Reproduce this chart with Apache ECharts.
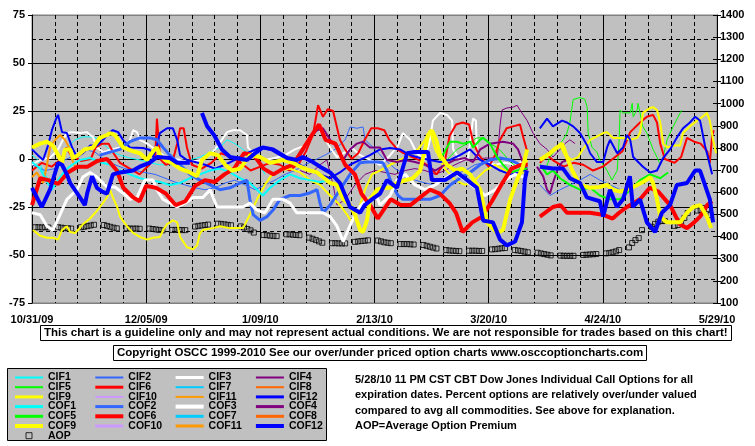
<!DOCTYPE html>
<html><head><meta charset="utf-8">
<script src="https://cdn.jsdelivr.net/npm/echarts@6/dist/echarts.min.js"></script>
<style>html,body{margin:0;padding:0;background:#fff}#c{width:755px;height:446px}</style>
</head><body><div id="c"></div>
<script>
// x = calendar days after 10/31/09
const X_TICK_LABELS = ['10/31/09','12/05/09','1/09/10','2/13/10','3/20/10','4/24/10','5/29/10'];

const CIF1 = [[0,2],[1.8,-0.5],[4,-8],[5.5,-12],[7.1,-8],[8.6,-3],[10.7,6],[13.2,10],[15.6,11.5],[18.7,11.5],[20.8,10],[23,6],[24.8,3.6],[27,2],[30,0.5],[33.1,-0.5],[36.2,-2],[39.2,-3],[42.3,-3],[45.4,-1.6],[48.4,-0.5],[51.5,1],[54.6,3.6],[57.6,6],[59.8,10],[62.2,8],[64.7,5],[67.8,1],[69.9,-3],[71.4,-8]];
const CIF2 = [[0,-3],[4,-6],[7.1,-5],[10.1,-0.5],[13.2,2],[16.2,5],[19.3,3.6],[22.4,-0.5],[25.4,-3],[28.5,-5],[31.6,-6],[34.6,-7],[37.7,-8],[40.8,-10],[43.8,-12],[46.9,-13.5],[50,-15],[53,-16],[56.1,-15],[59.2,-12.5],[62.2,-11],[65.3,-13.5],[68.4,-16],[71.4,-13.5],[74.5,-11],[77.6,-8],[80.6,-6],[83.7,-3],[86.8,-0.5],[89.8,2],[92.9,5],[96,10],[97.5,16.7],[99.6,16],[101.5,16.7],[102.1,10],[105.2,5],[108.2,-0.5],[111.3,-5],[114.4,-8],[117.4,-11],[120.5,-12.5],[123.6,-13.5],[126.6,-11],[129.7,-8],[132.8,-6],[135.8,-3],[138.9,-1.6],[142,-3],[145,-6],[148.1,-8],[151.8,-11],[153.5,null],[155.7,-13.5],[158.8,-19],[161.9,-16],[164.9,-13.5],[168,-11],[171.1,-8],[174.1,-11],[177.2,-13.5],[180.3,-16]];
const CIF3 = [[0,-3],[2.5,-0.5],[5.5,0.5],[8,5],[9.5,10],[10.7,13.5],[12.3,14],[14.7,13.5],[16.9,14],[17.8,12.5],[18.7,11.5],[19.9,6],[21.8,3.6],[23.9,4.7],[26.4,5.7],[28.5,6],[30,10],[31,15],[32.2,14],[33.1,10],[35.3,8],[37.7,5],[40.2,2],[42.3,0.5],[45.4,-0.5],[48.4,-1.6],[51.5,-0.5],[54.6,2],[57,7],[59.8,14],[61.6,15],[63.8,15],[65.9,12.5],[66.2,6],[68.4,2],[71.4,-0.5],[74.5,0.5],[77.6,2],[80.6,5],[83.7,7],[85.2,10],[87.4,17],[88.9,13.5],[91.4,6],[93.5,1],[96,3.6],[98.1,5.7],[100.6,2],[103.6,-0.5],[106.7,-3],[109.8,2],[112.2,7],[113.7,13.5],[115.9,10],[118,3],[120.5,-0.5],[122,10],[122.9,20],[125.1,24],[127.2,23],[128.8,20],[129.1,5],[131.2,-0.5],[133.7,0.5],[135.2,21],[136.1,20],[136.4,2],[138.9,-1.6],[142,-3],[145,-2],[148.1,-3],[151.8,-0.5]];
const CIF4 = [[82.2,-6],[85.2,-8],[88.3,-3],[90.4,-0.5],[92.3,-13.5],[93.5,-24],[96,-21],[99,-13.5],[102.1,-8],[105.2,-6],[108.2,-7],[111.3,-8],[114.4,-6],[117.4,-5],[120.5,-6],[123.6,-8],[126.6,-6],[129.7,-3],[132.8,-0.5],[135.8,-0.5],[138.9,0.5],[141.3,0.5],[142.6,-0.5],[143.5,17.7],[144.1,25.5],[145.6,26.6],[147.5,27],[148.7,28],[149.6,25.5],[151.8,20],[153.6,13.5],[155.7,8],[157.9,5],[159.7,1],[161.9,5],[163.4,8],[164.9,10],[166.5,8]];
const CIF5 = [[127.2,-0.5],[130.3,5],[133.4,8],[136.4,11],[138.3,11],[140.4,8],[142.6,6],[144.4,3],[146.6,-1.6],[148.7,-4],[150.5,-6],[151.8,-7],[153.5,null],[157.3,-6],[158.8,1],[161,6],[162.8,10],[164,13.5],[164.9,19],[165.9,31],[168,32],[169.5,31],[170.2,27],[170.5,13.5],[171.7,6],[173.2,3.6],[174.1,-0.5],[176.3,-6],[177.8,-11],[179.4,-6],[180,10],[180.3,25.5],[181.2,24],[183.4,24],[184,29],[184.3,22],[185.5,25.5],[185.8,29],[186.4,24],[187.3,16.7],[188.5,13.5],[190.4,5],[191.6,1],[192.6,-3],[193.5,1],[194.7,10],[196.5,16.7],[198.7,24],[199.3,25.5]];
const CIF6 = [[0,-6],[3,-2],[6,-4],[9,0],[10.5,6],[12,2],[15,-1],[18,0],[19.5,6],[21.5,8],[23.5,8],[25,3],[27,-2],[30,-5],[33,-8],[36,-3],[37.8,2],[38.3,21],[38.8,20],[39.3,0],[41,-3],[43,-2],[44.5,8],[45.4,16],[46.5,16],[47.5,6],[49,-3],[52,-5],[55,-2],[58,3],[61,1],[64,-2],[67,-6],[70,-4],[73,-2],[76,-3],[79,-6],[82,-2],[84,4],[86.2,13],[87.7,28],[89.2,22],[90.7,26],[92.3,25],[94.4,10],[96,5],[98,0],[100,3],[102,10],[104,16],[106,16],[108,15],[109.5,10],[112,5],[115,2],[118,0],[121,-3],[124,-8],[126.5,-2],[128,12],[130,18],[132,19],[134,18],[135.2,9],[137,2],[140,-4],[142,2],[143.5,10],[145.5,16],[147.5,17],[149.6,18],[150.5,12],[151.8,4],[153.5,null],[155.7,-2],[158,2],[160,-1],[163,-4],[166,-2],[169,-3],[172,-6],[175,-4],[178,0],[181,4],[183.4,14],[186.4,19],[188.5,22],[190.4,23],[191.6,19],[192.6,8],[194,0],[197,-2],[199,1],[200.8,11],[203,9],[205,8],[207,4],[207.8,-2],[208.5,12],[209,15]];
const CIF7 = [];
const CIF8 = [];
const CIF9 = [[0.3,-37],[2.5,-40],[4.6,-41],[6.4,-41],[8,-42],[9.2,-37],[10.7,-35],[11.7,-38],[13.2,-38.5],[14.1,-37],[15.6,-34],[17.8,-31],[19.9,-27],[20.8,-25],[23,-20],[23.9,-16],[24.8,-20],[26.1,-25],[27,-30],[29.1,-35],[31,-38.5],[33.1,-40.6],[35.3,-42],[37.1,-41],[39.2,-40.6],[40.2,-37],[41.4,-34],[43.2,-32],[44.5,-33],[45.4,-40.6],[47.5,-46],[49.4,-47],[50.6,-45],[51.5,-38.5],[52.4,-37],[55.5,-36],[57.6,-35],[60.7,-36],[62.9,-36],[64.7,-36],[66.8,-29],[69,-21],[71.4,-13.5],[73.6,-8],[76,-6],[79.1,-5],[82.2,-7],[85.2,-11],[88.3,-13.5],[91.4,-19],[94.4,-24],[96.6,-29],[98.1,-33],[100,-27],[102.1,-16],[104.2,-8],[106.7,-6],[109.8,-3],[112.8,-0.5],[115.9,2],[118.3,5],[120.5,10],[122,15],[123.6,5],[126.6,-5],[129.7,-11],[132.8,-13.5],[135.8,-11],[138.9,-6],[142,-3],[145,-6],[148.1,-8],[150.5,-7],[151.8,-0.5],[153.5,null],[157.3,1],[160.3,6],[161.9,7],[163.4,2],[165.6,-0.5],[167.4,1],[168.9,5],[171.1,10],[172.9,11.5],[175.1,13.5],[176.3,14],[178.1,11],[181.2,11],[183.4,10],[185.5,11],[186.4,13.5],[187.3,24],[189.5,26.6],[190.4,27],[191.6,25.5],[192.6,19],[193.5,8],[194.7,6],[196.5,7],[198.7,7],[199.6,13.5],[201.7,17],[203.9,20],[204.8,21],[206.9,24],[207.8,20],[208.8,10],[209.7,3]];
const CIF10 = [];
const CIF11 = [[0,-9.4],[1.5,-7],[3.4,-12.5],[4.6,-3],[5.5,6],[7.1,10],[8.6,12.5],[10.1,10],[11.7,5],[12.3,-0.5],[13.5,-5]];
const CIF12 = [[0,5],[1.8,2],[3.4,-0.5],[4.9,7],[6.1,15],[7.4,21],[8,23],[9.2,14],[10.7,13.5],[12.3,6],[13.8,1],[15.6,3],[17.8,7],[19.9,7],[21.8,10],[23.9,14],[24.8,15],[26.4,14],[27.9,10],[30,6],[34,5.7],[36.2,4.7],[37.1,1],[38.3,7],[39.2,13.5],[41.4,16],[43.2,16],[44.5,10],[45.4,2],[47.5,-0.5],[50,-1.6],[53,-3],[56.1,-5],[59.2,-3],[62.2,-0.5],[65.9,3],[69.9,6],[73,5],[76,2],[79.1,-0.5],[82.2,-3],[85.2,-6],[88.3,-8],[91.4,-10],[94.4,-7],[97.5,-3],[100.6,-0.5],[103.6,2],[106.7,5],[109.8,5.7],[112.8,5],[115.9,2],[119,0.5],[122,-0.5],[125.1,-1.6],[128.2,-0.5],[131.2,2],[134.3,5],[137.4,-0.5],[140.4,-3],[143.5,-6],[146.6,-8],[149.6,-7],[151.8,-5],[153.5,null],[155.7,16],[157.9,21],[159.7,17],[162.5,20],[164,19],[165.9,17],[168,13.5],[170.2,7],[171.1,3],[173.2,-1.6],[175.1,-1.6],[176.3,6],[177.2,10],[179.4,3],[181.2,6],[182.4,12.5],[183.4,10],[184.3,1],[187.3,-4],[189.5,-7],[191.6,-6],[193.5,0.5],[195.6,5],[197.8,11.5],[199.6,16],[201.7,19],[203.3,22],[204.8,20],[205.4,15],[206.3,7],[207.2,1],[208.5,-8]];

const COF1 = [[0,-1.6],[2.5,-5],[4.6,-12],[6.1,-16],[8,-11],[10.1,-6],[12.3,-3],[14.7,-0.5],[17.8,0.5],[20.8,-1.6],[23.9,-3],[27,-6],[30,-8],[33.1,-10],[36.2,-11],[39.2,-12],[42.3,-13.5],[45.4,-12.5],[48.4,-10],[51.5,-8],[54.6,-6],[57.6,-5],[60.7,-7],[63.8,-10],[66.8,-12.5],[69,-16],[70.8,-19],[73,-15],[76,-11],[79.1,-8],[82.2,-10],[85.2,-11],[88.3,-12],[91.4,-11]];
const COF2 = [[20.8,2],[23.9,3.6],[27,5],[30,9],[33.1,11],[36.2,11],[38.3,10],[40.2,6],[42.3,2],[45.4,-3],[48.4,-8],[51.5,-11],[54.6,-13.5],[57.6,-16],[60.7,-15],[63.8,-12.5],[65.9,-11],[66.8,-21],[67.8,-29],[69.9,-32],[72.1,-30],[73.9,-26.6],[76,-21],[79.1,-19],[82.2,-19],[85.2,-17.7],[87.4,-16],[88.3,-23],[89.2,-28],[91.4,-24],[94.4,-16],[97.5,-8],[100.6,-2],[102.7,-1.6],[105.8,-1.6],[107.6,-2],[108.8,-6],[110.4,-13.5],[112.2,-19],[113.7,-21],[117.4,-21],[122,-21],[125.1,-19],[128.2,-13.5],[131.2,-10],[134.3,-7],[137.4,-3],[140.4,-0.5],[143.5,0.5],[146.6,-0.5],[149.6,-3],[151.8,-5]];
const COF3 = [[0,-28],[2.5,-29],[4.6,-35],[6.4,-37],[8.6,-29],[10.7,-21],[13.8,-16],[15.6,-9.4],[17.8,-7],[19.9,-9.4],[23,-14.6],[25.4,-14.6],[27.9,-17.7],[30,-21],[32.2,-20],[34.6,-11],[37.1,-11],[38.3,-16],[40.2,-21],[44.5,-25],[46.9,-23],[49.4,-20],[52.4,-20],[54.6,-16],[56.7,-25],[60.7,-25],[64.7,-25],[66.8,-23],[69,-26.6],[71.4,-28],[73.9,-21],[77,-21],[79.1,-23],[81.2,-28],[85.2,-28],[89.2,-28],[91.4,-30],[93.5,-35],[95.4,-43],[96.9,-37],[99.6,-26.6],[102.7,-21],[105.8,-20],[106.7,-24],[109.8,-19],[111.9,-11],[114.4,-8],[117.4,-13.5],[120.5,-16],[123.6,-13.5],[126.6,-10],[129.7,-7],[132.8,-11],[135.8,-15],[138.9,-19],[142,-16],[145,-11],[148.1,-8],[151.8,-10]];
const COF4 = [[82.2,2],[83.7,6],[85.2,11.5],[87.4,15],[89.2,16],[91.4,10],[93.5,6],[95.4,-0.5],[97.5,5],[99.6,8],[101.5,9],[103.6,6],[106.7,6],[108.8,-0.5],[111.9,-1.6],[114.4,-0.5],[117.4,-1.6],[120.5,-3],[123.6,-6],[126.6,-3],[129.7,-0.5],[132.8,0.5],[135.2,-1.6],[137.4,5],[140.4,8],[144.4,9],[147.5,8],[149,5],[150.2,-0.5],[151.8,-6],[153.5,null],[154.8,-4],[156.7,-9],[157.9,-16],[158.8,-18],[159.7,-12.5],[161,-6],[162.5,-1.6],[164,-0.5]];
const COF5 = [[125.1,-0.5],[127.2,6],[128.2,9],[130.3,9],[132.1,8],[134.3,9],[135.2,6],[137.4,10],[138.3,11],[140.4,8],[142.6,1],[144.4,-3],[146.6,-7],[148.7,-6],[151.8,-5],[153.5,null],[155.7,-3],[157.9,-8],[159.7,-6],[161.9,-10],[164.9,-13.5],[168,-16],[171.1,-15],[174.1,-19],[177.2,-21],[180.3,-21],[183.4,-16],[186.4,-11],[189.5,-8],[192.6,-10],[195,-7]];
const COF6 = [[0,-24],[2.5,-10],[5,-11],[8,-13],[11,-7],[14,-4],[17,-4],[20,-1],[23,0],[26,-6],[28,-15],[31,-20],[33,-22],[35,-14],[38,-15],[41,-18],[44,-24],[47,-22],[50,-14],[53,-11],[56,-12],[59,-8],[62,-5],[65,3],[68,2],[71,-5],[74,-8],[77,-5],[80,-3],[83,5],[86,13],[88,18],[90,10],[93,8],[96,-3],[99,-8],[101,-18],[104,-25],[106,-31],[108,-26],[110,-21],[113,-24],[116,-24],[119,-20],[122,-16],[125,-18],[128,-23],[130,-28],[132,-38],[135,-33],[138,-30],[141,-22],[144,-13],[147,-5],[150,-3],[152,-3],[153.5,null],[155.7,-30],[159.7,-25],[162,-24],[164,-28],[167,-28],[171,-28],[175,-29],[178,-31],[180,-28],[182.4,-25],[186.4,-21],[189.4,-15],[192,-17],[195.6,-24],[198.6,-34],[200.8,-36],[203,-33],[204.8,-30],[207,-24],[208.5,-22]];
const COF7 = [];
const COF8 = [];
const COF9 = [[0,6],[2.5,8],[4.6,9],[6.4,7],[7.7,3],[9.2,-2],[10.1,5],[11.7,5],[12.6,0.5],[14.1,2],[16.2,5],[18.7,6],[20.8,11],[23,12.5],[23.9,13.5],[25.4,12.5],[26.4,10],[27.9,6],[31,4],[33.1,3],[35.3,-0.5],[37.1,4],[38.3,6],[39.2,2],[40.8,-0.5],[42.9,-2],[45.4,-5],[48.4,-7],[50.6,-9],[52.1,-0.5],[54.6,3],[57,2],[59.2,-3],[61.3,-6],[63.8,-5],[66.8,2],[69.9,1],[73,-2],[77,-0.5],[80,-2],[82.2,-4],[85.2,-6],[87.4,-7],[91.4,-12.5],[93.5,-13.5],[95.4,-21],[97.5,-24],[99,-29],[100.6,-37],[101.5,-38],[102.7,-32],[103.6,-21],[105.8,-16],[107.6,-15],[109.8,-15],[111.9,-12.5],[114.4,-11],[116.8,-10],[119,-6],[120.5,5],[121.4,12.5],[122.6,15],[123.9,10],[125.1,2],[127.2,-3],[129.7,-6],[131.8,-5],[134.3,-8],[137.4,-16],[139.5,-33],[142.6,-38.5],[144.4,-37],[146.6,-21],[148.7,-11],[150.5,-4],[151.8,5],[153.5,null],[155.7,-0.5],[158.8,3],[161,6],[162.5,8],[164,1],[165.6,-6],[168,-13.5],[171.1,-15],[174.1,-14.6],[176.3,-13.5],[178.1,-16],[180.3,-17],[182.4,-16],[184.3,-14.6],[187.3,-12],[189.5,-9.4],[190.4,-12.5],[191.6,-21],[192.6,-30],[194.7,-33],[196.5,-33],[198.7,-33],[200.8,-28],[202.7,-25],[204.8,-24],[206.9,-30],[208.2,-36]];
const COF10 = [];
const COF11 = [];
const COF12 = [[0,-15],[3,-25],[5.5,-16],[8,-2],[9.2,-3],[10.7,-8],[11.7,-12.5],[14.7,-20],[16.2,-24],[16.9,-18],[18.4,-9],[19.9,-15],[21.5,-17],[23,-18],[24.8,-8],[27,-7],[31,-6],[33,-4],[36,-2],[38.3,1],[42.3,0.5],[44.5,-2],[48.4,-2],[50,null],[52.1,24],[53.7,17],[55.8,12.5],[58.2,5],[60.7,1],[65.9,-0.5],[68.4,3],[70.8,6],[73.9,5],[78.2,0.5],[81.2,-0.5],[83,1],[86.1,-1.6],[88.3,-4],[91.4,-7],[94.4,-12.5],[97.5,-25],[100.6,-28],[102,-24],[104.2,-21],[106.7,-18],[108.8,-11],[111.9,-15],[115,3],[117.4,3.6],[121.4,3.6],[122.6,-11],[126.6,-11],[130.3,-7],[133.4,-11],[136.4,-15],[138.3,-32],[141.3,-33],[143.5,-42],[145.6,-45],[148.1,-43],[150.2,-33],[151.1,-11],[151.7,-6],[153.5,null],[155.7,-4],[159.7,-5],[162.8,-5],[164.9,-10],[168,-12.5],[170.1,-20],[174.1,-22],[175.1,-30],[177.2,-16],[179.3,-25],[181.2,-21],[183.3,-9],[184.2,-25],[186.4,-21],[188.5,-33],[191,-38],[193.1,-28],[195.6,-24],[197.7,-13.5],[200.8,-12.5],[203.3,-6],[204.8,-6],[206.3,-13.5],[207.8,-21],[208.8,-33]];

// Average option premium, one row per week (Mon..Fri)
const AOP_WEEKS = [
[442,442,441,442,441],[442,440,438,437,436],[442,444,447,450,453],[452,448,444,440,437],
[437,436,436,436,435],[436,434,432,430,428],[430,430,430,429,429],[445,448,450,452,454],
[458,457,455,453,451],[446,441,434,428,418],[407,406,404,403,402],[410,410,408,407,406],
[395,390,384,378,372],[370,370,369,369,369],[376,378,380,381,383],[382,378,374,372,370],
[366,366,366,365,364],[362,358,354,350,346],[339,337,336,335,334],[336,336,336,335,335],
[342,343,345,347,348],[339,337,335,332,329],[327,324,321,318,315],[314,313,313,313,313],
[317,318,319,320,321],[324,326,329,333,339],[351,371,384,393,429],[444,457,467,470,470],
[448,452,467,484,506],[517,520,529,524,497]
];

const NAMES = ['CIF1','CIF2','CIF3','CIF4','CIF5','CIF6','CIF7','CIF8','CIF9','CIF10','CIF11','CIF12',
               'COF1','COF2','COF3','COF4','COF5','COF6','COF7','COF8','COF9','COF10','COF11','COF12'];
const DATA = [CIF1,CIF2,CIF3,CIF4,CIF5,CIF6,CIF7,CIF8,CIF9,CIF10,CIF11,CIF12,
              COF1,COF2,COF3,COF4,COF5,COF6,COF7,COF8,COF9,COF10,COF11,COF12];
const COLORS = ['#00FFFF','#3366FF','#FFFFFF','#800080','#00FF00','#FF0000','#00CCFF','#FF6600','#FFFF00','#CC99FF','#FF9900','#0000FF'];
const CIF_WIDTH = [1,1,2,1,1,2,2,2,2,1,2,2];
const COF_WIDTH = [2,3,3,2,2,4,2,2,4,2,2,4];
// legend sample thickness
const CIF_LEG = [2,2,3,2,2,3,2,2,3,2,2,3];
const COF_LEG = [3,3,4,3,3,4,3,3,4,3,3,4];

const FONT = '"Liberation Sans", Arial, sans-serif';
const aopData = [];
AOP_WEEKS.forEach((w, k) => w.forEach((v, j) => aopData.push([7 * k + 1 + j, v])));

const series = NAMES.map((n, i) => ({
  name: n, type: 'line', data: DATA[i], xAxisIndex: 1, yAxisIndex: 1,
  symbol: 'none', showSymbol: false, connectNulls: false, silent: true,
  color: COLORS[i % 12],
  lineStyle: { color: COLORS[i % 12], width: i < 12 ? CIF_WIDTH[i] : COF_WIDTH[i - 12] },
  itemStyle: { color: COLORS[i % 12] },
  emphasis: { disabled: true }
}));
series.push({
  name: 'AOP', type: 'scatter', data: aopData, xAxisIndex: 1, yAxisIndex: 2,
  symbol: 'rect', symbolSize: 5, silent: true,
  itemStyle: { color: 'rgba(0,0,0,0)', borderColor: '#000', borderWidth: 1 },
  emphasis: { disabled: true }
});

const legendData = NAMES.map((n, i) => {
  const t = i < 12 ? CIF_LEG[i] : COF_LEG[i - 12];
  return { name: n, icon: 'path://M0,0H28V' + t + 'H0Z', itemStyle: { color: COLORS[i % 12], borderWidth: 0 } };
});
legendData.push({ name: 'AOP', icon: 'path://M0,0H10V10H0Z', itemStyle: { color: 'rgba(0,0,0,0)', borderColor: '#000', borderWidth: 1 } });

const lbl = { fontFamily: FONT, fontSize: 11, fontWeight: 'bold', color: '#000' };
const box = { fontFamily: FONT, fontSize: 11.5, fontWeight: 'bold', color: '#000', lineHeight: 12 };
const chart = echarts.init(document.getElementById('c'), null, { renderer: 'canvas' });
chart.setOption({
  animation: false,
  backgroundColor: '#fff',
  textStyle: { fontFamily: FONT },
  grid: { left: 32, right: 38, top: 15, bottom: 143, show: true, backgroundColor: '#C0C0C0', borderColor: '#808080', borderWidth: 1 },
  xAxis: [
    { type: 'value', min: 0, max: 210, interval: 7, position: 'bottom', axisLine: { show: false }, axisTick: { show: false }, axisLabel: { show: false },
      splitLine: { show: true, lineStyle: { color: ['rgba(0,0,0,0)', '#000', '#000', '#000', '#000'], type: [4, 3], width: 1 } } },
    { type: 'value', min: 0, max: 210, interval: 35, position: 'bottom', axisLine: { show: false }, axisTick: { show: false },
      axisLabel: Object.assign({ margin: 11, showMinLabel: true, showMaxLabel: true, formatter: v => X_TICK_LABELS[Math.round(v / 35)] }, lbl),
      splitLine: { show: true, lineStyle: { color: '#000', width: 1 } } }
  ],
  yAxis: [
    { type: 'value', min: -75, max: 75, interval: 12.5, position: 'left', axisLine: { show: false }, axisTick: { show: false }, axisLabel: { show: false },
      splitLine: { show: true, lineStyle: { color: ['rgba(0,0,0,0)', '#000'], type: [4, 3], width: 1 } } },
    { type: 'value', min: -75, max: 75, interval: 25, position: 'left',
      axisLine: { show: true, lineStyle: { color: '#000', width: 1 } },
      axisTick: { show: true, length: 4, lineStyle: { color: '#000' } },
      axisLabel: Object.assign({ margin: 7 }, lbl),
      splitLine: { show: true, lineStyle: { color: ['#808080', '#000', '#000', '#000', '#000', '#000', '#808080'], width: 1 } } },
    { type: 'value', min: 100, max: 1400, interval: 100, position: 'right',
      axisLine: { show: true, lineStyle: { color: '#000', width: 1 } },
      axisTick: { show: true, length: 4, lineStyle: { color: '#000' } },
      axisLabel: Object.assign({ margin: 3, formatter: v => String(v) }, lbl), splitLine: { show: false } },
    { type: 'value', min: 100, max: 1400, interval: 100, position: 'right',
      axisLine: { show: false }, axisTick: { show: true, inside: true, length: 4, lineStyle: { color: '#000' } },
      axisLabel: { show: false }, splitLine: { show: false } }
  ],
  title: [
    { text: 'This chart is a guideline only and may not represent actual conditions. We are not responsible for trades based on this chart!',
      left: 40, top: 325, padding: [2, 4, 2, 4], backgroundColor: '#fff', borderColor: '#000', borderWidth: 1, textStyle: box },
    { text: 'Copyright OSCC 1999-2010 See our over/under priced option charts www.osccoptioncharts.com',
      left: 113, top: 345, padding: [2, 4, 2, 4], backgroundColor: '#fff', borderColor: '#000', borderWidth: 1, textStyle: box },
    { text: '5/28/10 11 PM CST CBT Dow Jones Individual Call Options for all\nexpiration dates. Percent options are relatively over/under valued\ncompared to avg all commodities. See above for explanation.\nAOP=Average Option Premium',
      left: 355, top: 372, padding: 0, textStyle: Object.assign({ lineHeight: 15.5 }, lbl) }
  ],
  graphic: [
    { type: 'rect', z: 0, shape: { x: 7.5, y: 368.5, width: 319, height: 72 }, style: { fill: '#C0C0C0', stroke: '#000', lineWidth: 1 } }
  ],
  legend: {
    left: 15, top: 372, padding: 0, width: 330, orient: 'horizontal', selectedMode: false,
    itemWidth: 28, itemHeight: 6, itemGap: -1.3, symbolKeepAspect: true,
    data: legendData,
    textStyle: { fontFamily: FONT, fontSize: 10.5, fontWeight: 'bold', color: '#000', width: 48.6, lineHeight: 8 }
  },
  series: series
});
</script>
</body></html>
